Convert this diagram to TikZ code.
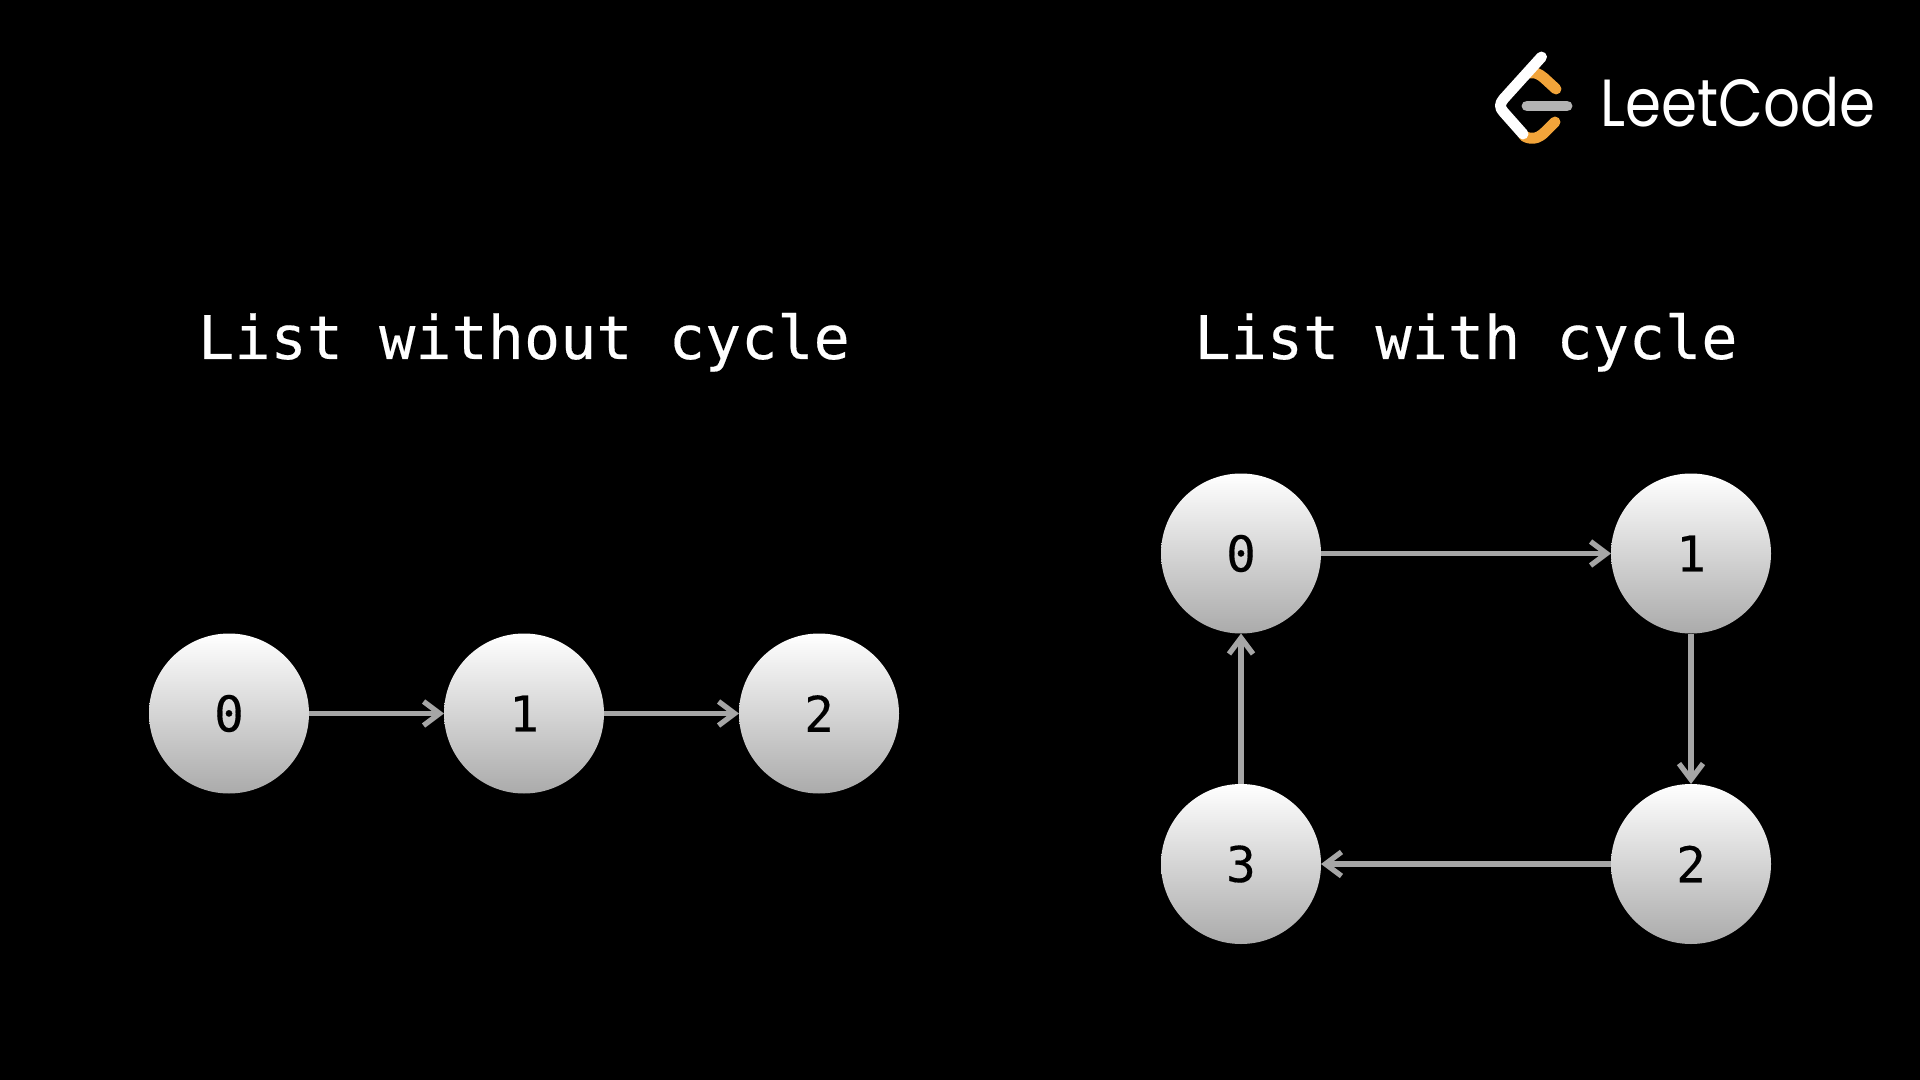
\documentclass[tikz,border=0pt]{standalone}
\usepackage{fontspec}
\usepackage{graphicx}
\usetikzlibrary{arrows.meta}
\setmainfont[FakeBold=0.3]{DejaVu Sans Mono}
\newfontfamily\logofont{Poppins}
\definecolor{arrowgray}{HTML}{A6A6A6}
\definecolor{logoorange}{HTML}{F2A43A}
\definecolor{logogray}{HTML}{B3B3B3}
\tikzset{
  listnode/.style={circle,minimum size=120pt,inner sep=0pt,outer sep=0pt,top color=white,bottom color=black!33,text=black,font=\fontsize{37}{37}\selectfont},
  title/.style={anchor=base,text=white,inner sep=0pt,font=\fontsize{45.1}{46}\selectfont},
  link/.style={draw=arrowgray,line width=4pt,-{Straight Barb[length=12pt,width=18pt,line width=4pt]}},
  logostroke/.style={line width=8.2pt,line cap=round,line join=round}
}
\begin{document}
\begin{tikzpicture}[x=0.75pt,y=-0.75pt]
\path[use as bounding box,fill=black] (0,0) rectangle (1920,1080);
\node[title] (t1) at (524,359) {List without cycle};
\node[title] (t2) at (1466,359) {List with cycle};
\node[listnode] (a0) at (229,713.5) {0};
\node[listnode] (a1) at (524,713.5) {1};
\node[listnode] (a2) at (819,713.5) {2};
\node[listnode] (b0) at (1241,553.5) {0};
\node[listnode] (b1) at (1691,553.5) {1};
\node[listnode] (b2) at (1691,864) {2};
\node[listnode] (b3) at (1241,864) {3};
\draw[link] (a0) -- (a1);
\draw[link] (a1) -- (a2);
\draw[link] (b0) -- (b1);
\draw[link] (b1) -- (b2);
\draw[link] (b2) -- (b3);
\draw[link] (b3) -- (b0);
% logo
\draw[logostroke,draw=logoorange] (1529,73) .. controls (1536,72) and (1539,74) .. (1544,78) -- (1556,89);
\draw[logostroke,draw=logoorange] (1555,122) -- (1545,132) .. controls (1538,139) and (1531,140) .. (1524,136);
\draw[logostroke,draw=white] (1541.5,57) -- (1503.5,99) .. controls (1499.5,103.5) and (1499.5,108) .. (1503.5,112) -- (1523,134);
\draw[logostroke,draw=logogray] (1527,106) -- (1567,106);
\node[anchor=base west,inner sep=0pt,text=white,font=\logofont\fontsize{50}{50}\selectfont] (logo) at (1600,127) {\scalebox{0.87}[1]{LeetCode}};
\end{tikzpicture}
\end{document}
